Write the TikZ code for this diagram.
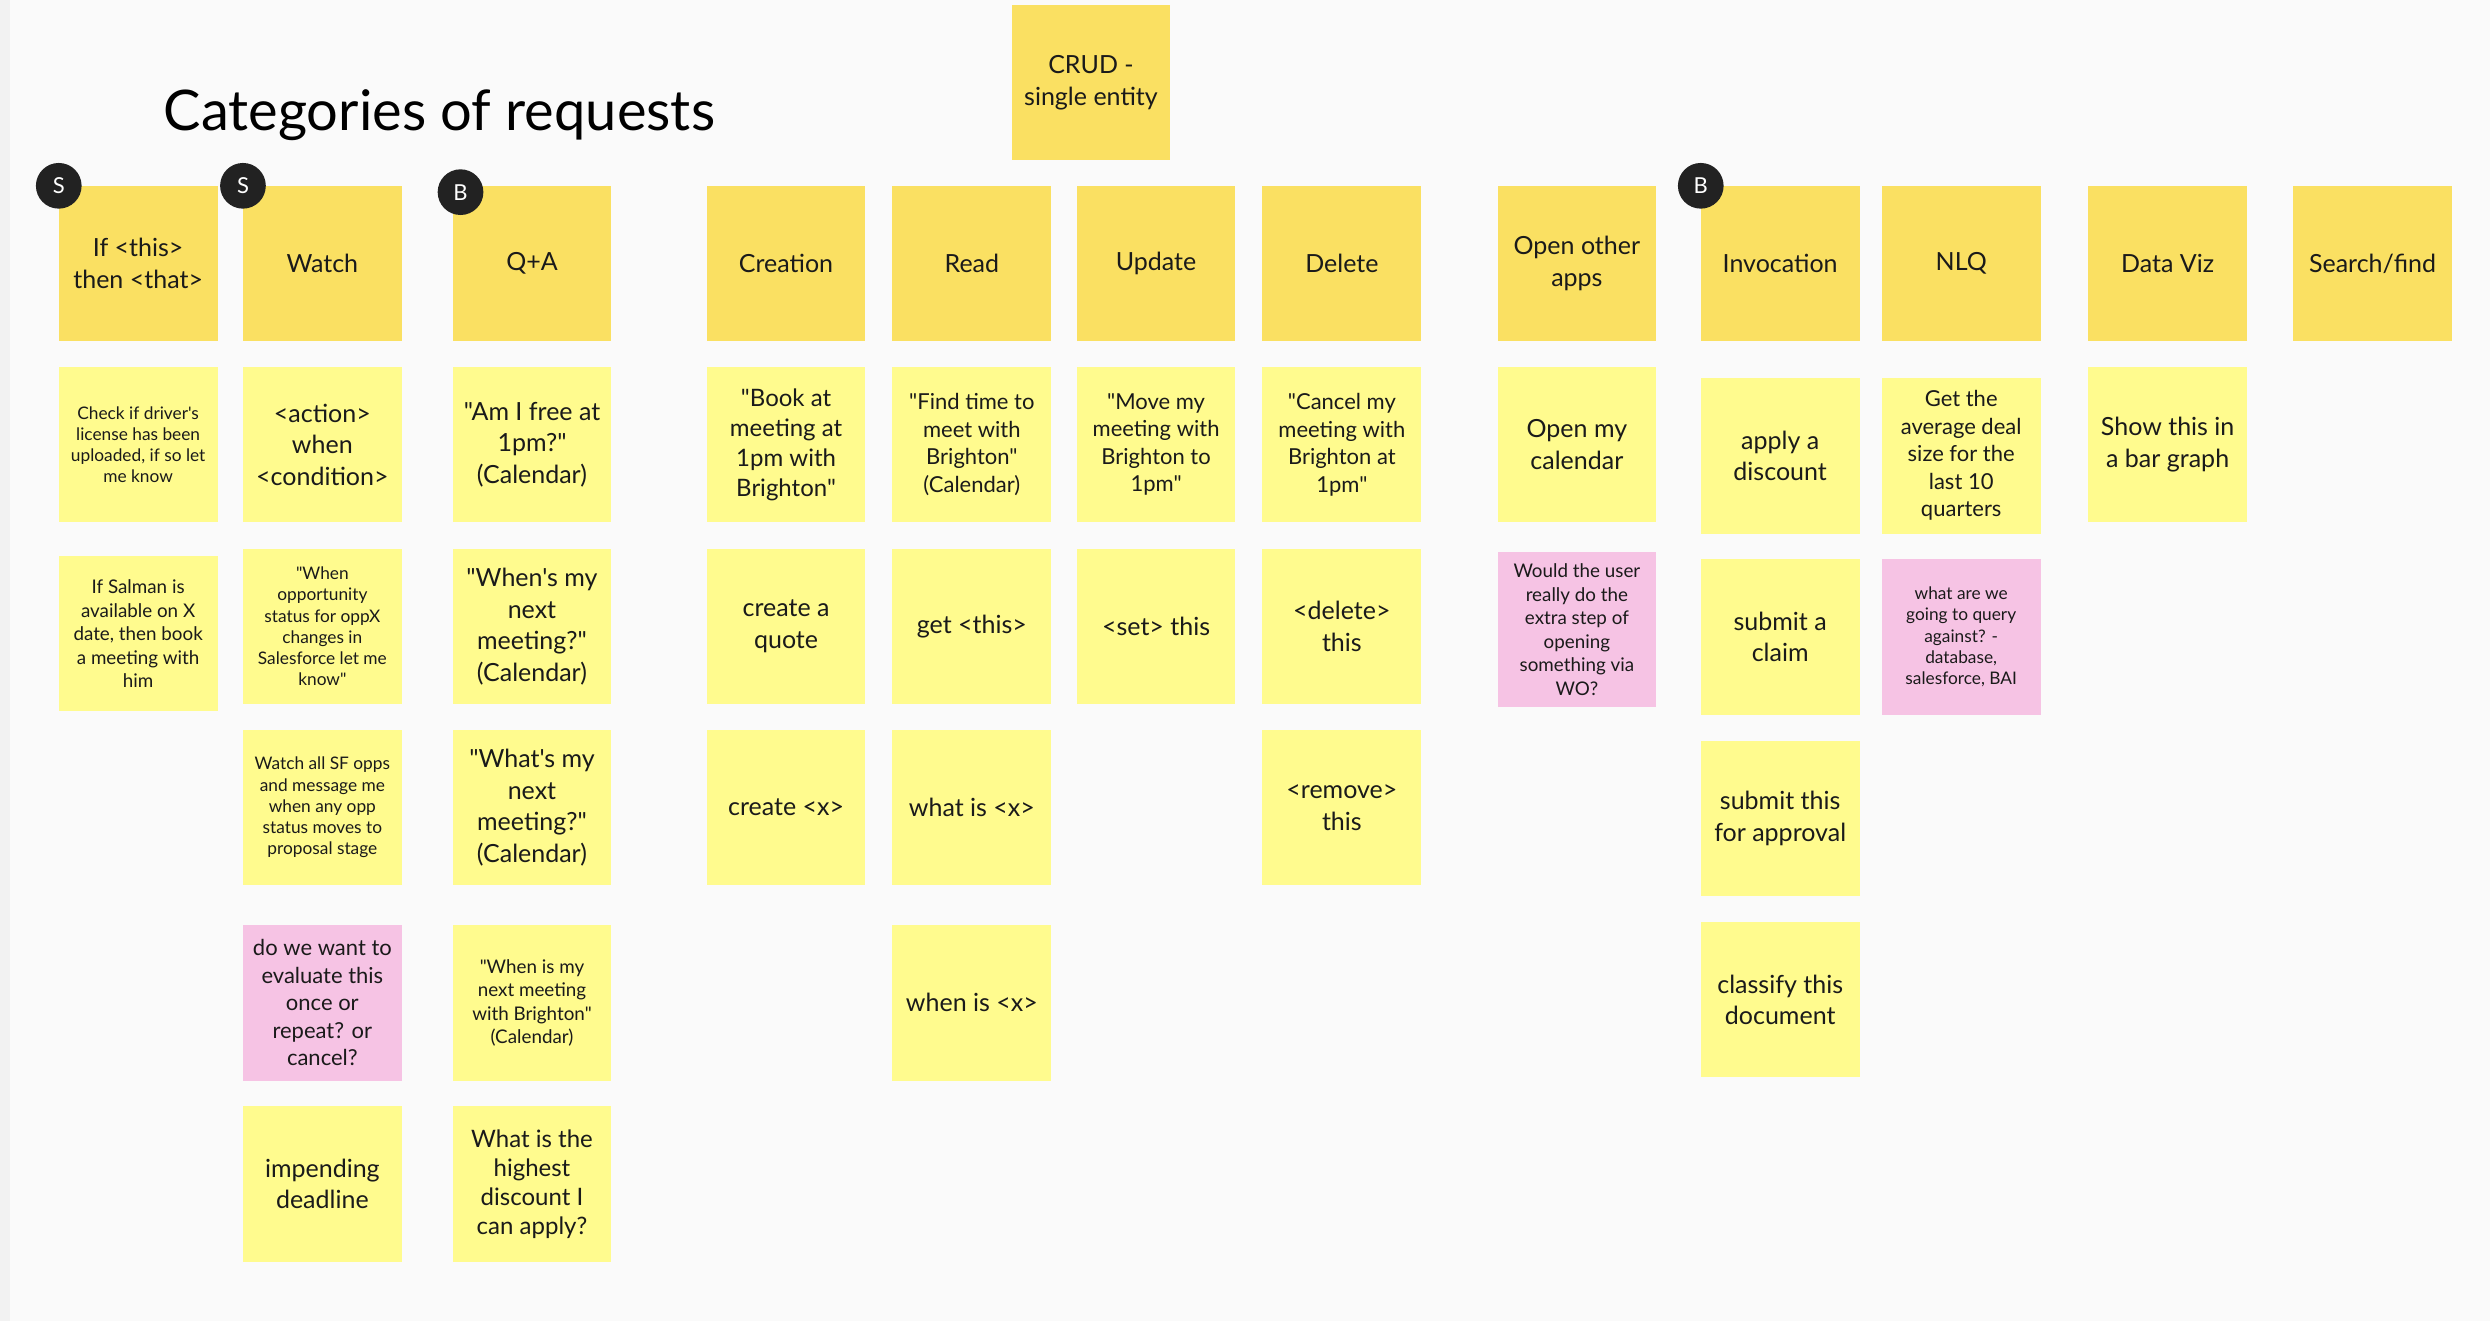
\documentclass[tikz,border=0pt]{standalone}
\usepackage{fontspec}
\setmainfont{Lato}[Ligatures=TeXOff]
\usepackage{tikz}

\definecolor{board}{HTML}{FAFAFA}
\definecolor{boardedge}{HTML}{F2F2F2}
\definecolor{hdryellow}{HTML}{FAE062}
\definecolor{noteyellow}{HTML}{FFFB8E}
\definecolor{notepink}{HTML}{F6C3E4}
\definecolor{badgegray}{HTML}{222222}
\definecolor{ink}{HTML}{1A1A1A}

\newcommand\titletxt{\fontsize{56}{64}\selectfont}
\newcommand\bigtxt{\fontsize{25}{31.5}\selectfont}
\newcommand\midtxt{\fontsize{22}{27.5}\selectfont}
\newcommand\lesstxt{\fontsize{18.8}{23.5}\selectfont}
\newcommand\smalltxt{\fontsize{17.3}{21.2}\selectfont}

\begin{document}
\begin{tikzpicture}[x=1.588pt,y=-1.588pt,
    sticky/.style={minimum width=158.8pt,minimum height=155.6pt,inner sep=0pt,align=center,text=ink,font=\bigtxt},
    hdr/.style={sticky,fill=hdryellow},
    idea/.style={sticky,fill=noteyellow},
    query/.style={sticky,fill=notepink},
    badge/.style={circle,fill=badgegray,text=white,minimum size=45.7pt,inner sep=0pt,font=\fontsize{22}{24}\selectfont}]
    \fill[board] (0,0) rectangle (1568,832);
    \fill[boardedge] (0,0) rectangle (6,832);
    \useasboundingbox (0,0) rectangle (1568,832);
    \node[anchor=base west,text=black,font=\titletxt,inner sep=0pt] (title) at (103,82) {Categories of requests};
    \node[hdr] (crud) at (687,52) {CRUD -\\single entity};

    \node[hdr] (ifthen) at (87,166) {If <this>\\then <that>};
    \node[hdr] (watch) at (203,166) {Watch};
    \node[hdr] (qa) at (335,166) {Q+A};
    \node[hdr] (creation) at (495,166) {Creation};
    \node[hdr] (read) at (612,166) {Read};
    \node[hdr] (update) at (728,166) {Update};
    \node[hdr] (delete) at (845,166) {Delete};
    \node[hdr] (openapps) at (993,166) {Open other\\apps};
    \node[hdr] (invocation) at (1121,166) {Invocation};
    \node[hdr] (nlq) at (1235,166) {NLQ};
    \node[hdr] (dataviz) at (1365,166) {Data Viz};
    \node[hdr] (search) at (1494,166) {Search/find};

    \node[idea,font=\smalltxt] (ifthen1) at (87,280) {Check if driver's\\license has been\\uploaded, if so let\\me know};
    \node[idea,font=\lesstxt] (ifthen2) at (87,399) {If Salman is\\available on X\\date, then book\\a meeting with\\him};

    \node[idea] (watch1) at (203,280) {<action>\\when\\<condition>};
    \node[idea,font=\smalltxt] (watch2) at (203,394.5) {"When\\opportunity\\status for oppX\\changes in\\Salesforce let me\\know"};
    \node[idea,font=\smalltxt] (watch3) at (203,508.5) {Watch all SF opps\\and message me\\when any opp\\status moves to\\proposal stage};
    \node[query,font=\midtxt] (watch4) at (203,631.5) {do we want to\\evaluate this\\once or\\repeat? or\\cancel?};
    \node[idea] (watch5) at (203,745.5) {impending\\deadline};

    \node[idea] (qa1) at (335,280) {"Am I free at\\1pm?"\\(Calendar)};
    \node[idea] (qa2) at (335,394.5) {"When's my\\next\\meeting?"\\(Calendar)};
    \node[idea] (qa3) at (335,508.5) {"What's my\\next\\meeting?"\\(Calendar)};
    \node[idea,font=\lesstxt] (qa4) at (335,631.5) {"When is my\\next meeting\\with Brighton"\\(Calendar)};
    \node[idea,font=\fontsize{24}{29}\selectfont] (qa5) at (335,745.5) {What is the\\highest\\discount I\\can apply?};

    \node[idea,font=\fontsize{24}{30}\selectfont] (creation1) at (495,280) {"Book at\\meeting at\\1pm with\\Brighton"};
    \node[idea] (creation2) at (495,394.5) {create a\\quote};
    \node[idea] (creation3) at (495,508.5) {create <x>};

    \node[idea,font=\midtxt] (read1) at (612,280) {"Find time to\\meet with\\Brighton"\\(Calendar)};
    \node[idea] (read2) at (612,394.5) {get <this>};
    \node[idea] (read3) at (612,508.5) {what is <x>};
    \node[idea] (read4) at (612,631.5) {when is <x>};

    \node[idea,font=\midtxt] (update1) at (728,280) {"Move my\\meeting with\\Brighton to\\1pm"};
    \node[idea] (update2) at (728,394.5) {<set> this};

    \node[idea,font=\midtxt] (delete1) at (845,280) {"Cancel my\\meeting with\\Brighton at\\1pm"};
    \node[idea] (delete2) at (845,394.5) {<delete>\\this};
    \node[idea] (delete3) at (845,508.5) {<remove>\\this};

    \node[idea] (openapps1) at (993,280) {Open my\\calendar};
    \node[query,font=\lesstxt] (openapps2) at (993,396.5) {Would the user\\really do the\\extra step of\\opening\\something via\\WO?};

    \node[idea] (invocation1) at (1121,287) {apply a\\discount};
    \node[idea] (invocation2) at (1121,401) {submit a\\claim};
    \node[idea] (invocation3) at (1121,515.5) {submit this\\for approval};
    \node[idea] (invocation4) at (1121,629.5) {classify this\\document};

    \node[idea,font=\midtxt] (nlq1) at (1235,287) {Get the\\average deal\\size for the\\last 10\\quarters};
    \node[query,font=\smalltxt] (nlq2) at (1235,401) {what are we\\going to query\\against? -\\database,\\salesforce, BAI};

    \node[idea] (dataviz1) at (1365,280) {Show this in\\a bar graph};

    \node[badge] (badge1) at (37,117) {S};
    \node[badge] (badge2) at (153,117) {S};
    \node[badge] (badge3) at (290,121) {B};
    \node[badge] (badge4) at (1071,117) {B};
\end{tikzpicture}
\end{document}
